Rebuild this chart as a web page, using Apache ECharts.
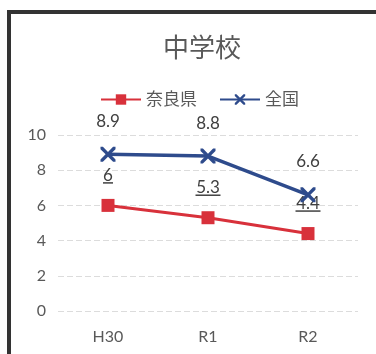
<!DOCTYPE html>
<html>
<head>
<meta charset="utf-8">
<script src="https://cdn.jsdelivr.net/npm/echarts@6/dist/echarts.min.js"></script>
<style>
  html, body { margin: 0; padding: 0; background: #fff; }
  #chart { width: 376px; height: 354px; }
</style>
</head>
<body>
<div id="chart"></div>
<script>
const categories = ['H30', 'R1', 'R2']
const naraValues = [6, 5.3, 4.4]
const zenkokuValues = [8.9, 8.8, 6.6]
const yTicks = { min: 0, max: 10, interval: 2 }

const RED = '#d8313b'
const BLUE = '#2e4b8c'
const TEXT = '#595959'
const FONT = 'Lato, "Noto Sans CJK JP", sans-serif'

const crossPath = 'path://M0,0L1.6,0L5,3.4L8.4,0L10,0L10,1.6L6.6,5L10,8.4L10,10L8.4,10L5,6.6L1.6,10L0,10L0,8.4L3.4,5L0,1.6Z'

const chart = echarts.init(document.getElementById('chart'))

chart.setOption({
  backgroundColor: '#fff',
  animation: false,
  title: {
    text: '中学校',
    left: 197,
    textAlign: 'center',
    top: 31,
    textStyle: { color: TEXT, fontSize: 26, fontWeight: 'normal', fontFamily: FONT }
  },
  legend: {
    top: 86,
    left: 95,
    itemWidth: 40,
    itemHeight: 13,
    itemGap: 22,
    textStyle: { color: TEXT, fontSize: 17, fontFamily: FONT },
    data: ['奈良県', '全国']
  },
  graphic: [{
    type: 'polyline',
    shape: { points: [[9, 400], [9, 12], [400, 12]] },
    style: { stroke: '#333', lineWidth: 4, fill: null }
  }],
  grid: { left: 58, right: 18, top: 135, bottom: 43 },
  xAxis: {
    type: 'category',
    data: categories,
    axisLine: { show: false },
    axisTick: { show: false },
    axisLabel: { color: TEXT, fontSize: 16, fontFamily: FONT, margin: 18 }
  },
  yAxis: {
    type: 'value',
    min: yTicks.min,
    max: yTicks.max,
    interval: yTicks.interval,
    axisLine: { show: false },
    axisTick: { show: false },
    axisLabel: { color: TEXT, fontSize: 16, fontFamily: FONT, margin: 12 },
    splitLine: { lineStyle: { color: '#dcdcdc', width: 1, type: [6, 3] } }
  },
  series: [
    {
      name: '奈良県',
      type: 'line',
      data: naraValues,
      symbol: 'rect',
      symbolSize: 13,
      lineStyle: { color: RED, width: 3 },
      itemStyle: { color: RED },
      label: {
        show: true,
        position: 'top',
        distance: 15,
        formatter: p => {
          const s = String(p.value)
          return '{v|' + s + '}\n{' + (s.length > 1 ? 'u3' : 'u1') + '| }'
        },
        rich: {
          v: { color: '#404040', fontSize: 17, fontFamily: FONT, lineHeight: 13 },
          u1: { backgroundColor: '#404040', width: 10, height: 1.5, fontSize: 1, lineHeight: 2 },
          u3: { backgroundColor: '#404040', width: 25, height: 1.5, fontSize: 1, lineHeight: 2 }
        }
      },
      z: 2
    },
    {
      name: '全国',
      type: 'line',
      data: zenkokuValues,
      symbol: crossPath,
      symbolSize: 15,
      lineStyle: { color: BLUE, width: 3.5 },
      itemStyle: { color: BLUE },
      label: {
        show: true,
        position: 'top',
        distance: 17,
        color: '#404040',
        fontSize: 17,
        fontFamily: FONT
      },
      z: 3
    }
  ]
})
</script>
</body>
</html>
